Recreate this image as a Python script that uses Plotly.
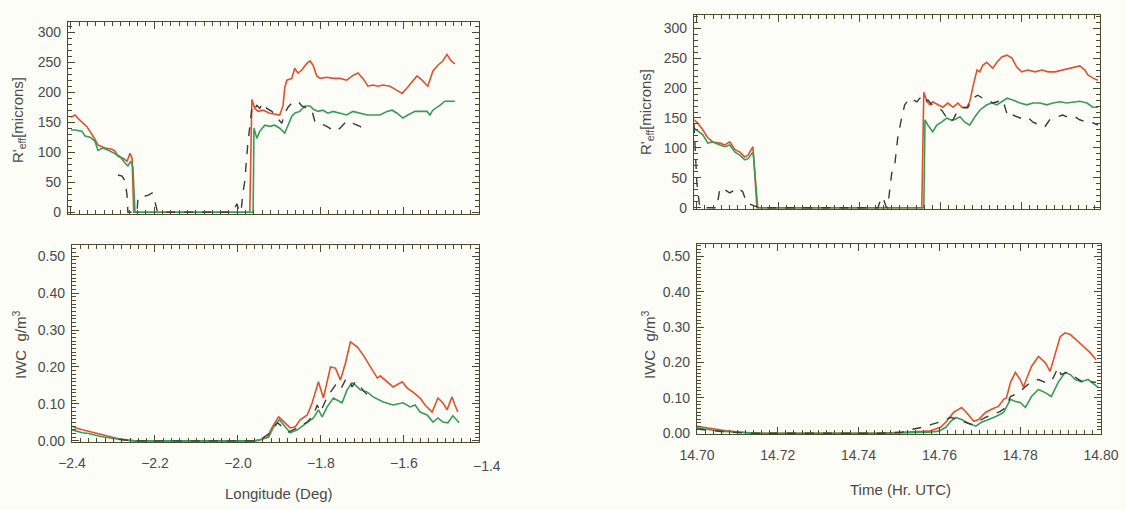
import plotly.graph_objects as go

W, H = 1126, 510

# ---------------- Top-left: R'eff vs Longitude ----------------
lon_tl_red = [-2.400, -2.390, -2.378, -2.362, -2.347, -2.335, -2.318, -2.301, -2.294, -2.287,
              -2.275, -2.265, -2.258, -2.253, -2.249, -1.970, -1.965, -1.958, -1.950, -1.938,
              -1.922, -1.905, -1.898, -1.890, -1.886, -1.881, -1.869, -1.862, -1.854, -1.845,
              -1.833, -1.825, -1.818, -1.809, -1.801, -1.785, -1.770, -1.753, -1.737, -1.722,
              -1.710, -1.698, -1.686, -1.674, -1.662, -1.650, -1.633, -1.616, -1.604, -1.592,
              -1.580, -1.568, -1.556, -1.542, -1.530, -1.518, -1.506, -1.496, -1.487, -1.477]
reff_tl_red = [158, 162, 153, 143, 127, 112, 107, 105, 102, 93,
               90, 85, 98, 90, 0, 0, 188, 173, 168, 170,
               165, 163, 162, 178, 207, 220, 223, 240, 232, 237,
               248, 252, 245, 227, 223, 225, 223, 223, 220, 228,
               232, 223, 210, 212, 210, 212, 210, 203, 198, 207,
               218, 227, 220, 210, 235, 245, 252, 263, 253, 247]

lon_tl_green = [-2.400, -2.390, -2.374, -2.366, -2.354, -2.342, -2.335, -2.323, -2.306, -2.294,
                -2.282, -2.270, -2.263, -2.256, -2.251, -2.246, -1.962, -1.960, -1.953, -1.946,
                -1.934, -1.922, -1.910, -1.898, -1.886, -1.878, -1.869, -1.862, -1.850, -1.837,
                -1.825, -1.818, -1.806, -1.794, -1.782, -1.770, -1.753, -1.737, -1.722, -1.705,
                -1.688, -1.674, -1.657, -1.640, -1.628, -1.616, -1.602, -1.590, -1.573, -1.556,
                -1.544, -1.537, -1.530, -1.513, -1.501, -1.489, -1.477]
reff_tl_green = [137, 137, 135, 127, 125, 118, 103, 107, 102, 98,
                 93, 82, 77, 85, 75, 0, 0, 140, 123, 135,
                 145, 143, 145, 140, 132, 145, 160, 165, 168, 177,
                 177, 172, 168, 170, 165, 168, 165, 162, 168, 165,
                 162, 162, 162, 168, 170, 165, 157, 162, 168, 168,
                 168, 162, 170, 178, 185, 185, 185]

lon_tl_black = [-2.287, -2.277, -2.270, -2.265, -2.263, -2.241, -2.239, -2.229, -2.222, -2.215,
                -2.205, -2.198, -2.193, -2.186, -2.011, -2.001, -1.996, -1.991, -1.987, -1.982,
                -1.975, -1.970, -1.965, -1.962, -1.958, -1.953, -1.946, -1.938, -1.929, -1.917,
                -1.910, -1.902, -1.893, -1.886, -1.878, -1.869, -1.854, -1.845, -1.833, -1.821,
                -1.813, -1.801, -1.785, -1.765, -1.753, -1.737, -1.722, -1.705, -1.688]
reff_tl_black = [62, 60, 52, 28, 0, 0, 23, 28, 27, 28,
                 32, 18, 3, 0, 0, 14, 3, 0, 30, 52,
                 112, 145, 173, 178, 173, 178, 173, 182, 173, 168,
                 162, 155, 148, 165, 175, 182, 185, 177, 173, 170,
                 150, 148, 143, 135, 140, 152, 148, 143, 135]

# ---------------- Bottom-left: IWC vs Longitude ----------------
lon_bl_red = [-2.400, -2.390, -2.375, -2.360, -2.345, -2.330, -2.315, -2.300, -2.285, -2.270,
              -2.250, -1.960, -1.946, -1.929, -1.917, -1.902, -1.890, -1.874, -1.862, -1.850,
              -1.833, -1.821, -1.806, -1.794, -1.777, -1.765, -1.753, -1.741, -1.729, -1.712,
              -1.698, -1.681, -1.664, -1.657, -1.640, -1.626, -1.604, -1.592, -1.578, -1.561,
              -1.549, -1.532, -1.518, -1.506, -1.496, -1.484, -1.477, -1.470]
iwc_bl_red = [0.040, 0.035, 0.030, 0.026, 0.020, 0.016, 0.012, 0.008, 0.005, 0.003,
              0.000, 0.000, 0.003, 0.010, 0.038, 0.065, 0.051, 0.035, 0.038, 0.057,
              0.070, 0.103, 0.160, 0.116, 0.200, 0.197, 0.165, 0.210, 0.268, 0.254,
              0.232, 0.200, 0.170, 0.176, 0.160, 0.146, 0.160, 0.143, 0.132, 0.116,
              0.097, 0.078, 0.116, 0.103, 0.084, 0.119, 0.097, 0.078]

lon_bl_green = [-2.400, -2.390, -2.375, -2.360, -2.345, -2.330, -2.315, -2.300, -2.285, -2.270,
                -2.250, -1.960, -1.946, -1.926, -1.914, -1.900, -1.886, -1.874, -1.857, -1.833,
                -1.818, -1.806, -1.797, -1.785, -1.770, -1.749, -1.737, -1.725, -1.717, -1.705,
                -1.688, -1.674, -1.650, -1.626, -1.602, -1.585, -1.573, -1.561, -1.544, -1.530,
                -1.518, -1.506, -1.494, -1.482, -1.467]
iwc_bl_green = [0.030, 0.027, 0.022, 0.020, 0.015, 0.012, 0.009, 0.006, 0.004, 0.002,
                0.000, 0.000, 0.003, 0.010, 0.038, 0.057, 0.038, 0.022, 0.030, 0.049,
                0.062, 0.084, 0.065, 0.092, 0.116, 0.103, 0.138, 0.157, 0.151, 0.138,
                0.132, 0.119, 0.105, 0.097, 0.103, 0.092, 0.097, 0.078, 0.070, 0.051,
                0.062, 0.051, 0.049, 0.068, 0.049]

lon_bl_black = [-2.287, -2.270, -2.250, -1.960, -1.946, -1.922, -1.905, -1.893, -1.878, -1.857,
                -1.833, -1.818, -1.809, -1.801, -1.785, -1.765, -1.753, -1.741, -1.734, -1.725,
                -1.717, -1.705, -1.693, -1.686]
iwc_bl_black = [0.004, 0.002, 0.000, 0.000, 0.003, 0.022, 0.049, 0.038, 0.024, 0.035,
                0.051, 0.070, 0.097, 0.078, 0.119, 0.151, 0.138, 0.165, 0.170, 0.146,
                0.160, 0.146, 0.130, 0.124]

# ---------------- Top-right: R'eff vs Time ----------------
t_tr_red = [14.6993, 14.7002, 14.7015, 14.7027, 14.7039, 14.7057, 14.7069, 14.7081, 14.7094, 14.7106,
            14.7118, 14.7126, 14.7138, 14.7140, 14.7148, 14.7554, 14.7559, 14.7567, 14.7574, 14.7581,
            14.7594, 14.7606, 14.7618, 14.7631, 14.7643, 14.7653, 14.7665, 14.7672, 14.7680, 14.7690,
            14.7697, 14.7704, 14.7714, 14.7722, 14.7729, 14.7739, 14.7751, 14.7764, 14.7776, 14.7788,
            14.7800, 14.7815, 14.7833, 14.7850, 14.7865, 14.7882, 14.7899, 14.7914, 14.7931, 14.7943,
            14.7956, 14.7963, 14.7975, 14.7988]
reff_tr_red = [147, 142, 130, 117, 110, 108, 105, 110, 97, 93,
               85, 88, 102, 85, 0, 0, 193, 177, 172, 177,
               172, 168, 175, 168, 175, 168, 168, 177, 202, 230,
               227, 238, 243, 238, 233, 243, 252, 255, 250, 235,
               227, 230, 227, 230, 227, 227, 230, 233, 235, 237,
               230, 222, 217, 213]

t_tr_green = [14.6993, 14.7002, 14.7015, 14.7027, 14.7039, 14.7057, 14.7069, 14.7081, 14.7094, 14.7106,
              14.7118, 14.7126, 14.7138, 14.7140, 14.7150, 14.7559, 14.7562, 14.7569, 14.7581, 14.7591,
              14.7603, 14.7616, 14.7623, 14.7635, 14.7648, 14.7660, 14.7672, 14.7685, 14.7697, 14.7714,
              14.7727, 14.7739, 14.7751, 14.7764, 14.7778, 14.7796, 14.7813, 14.7828, 14.7845, 14.7862,
              14.7877, 14.7894, 14.7911, 14.7926, 14.7943, 14.7961, 14.7975, 14.7988]
reff_tr_green = [133, 128, 122, 108, 110, 105, 102, 105, 93, 88,
                 80, 82, 93, 83, 0, 0, 147, 138, 127, 138,
                 143, 150, 147, 147, 152, 143, 138, 152, 163, 172,
                 175, 172, 177, 183, 180, 175, 172, 175, 175, 172,
                 175, 177, 175, 177, 178, 175, 168, 168]

t_tr_black = [14.6993, 14.7000, 14.7007, 14.7015, 14.7049, 14.7057, 14.7069, 14.7081, 14.7094, 14.7101,
              14.7113, 14.7123, 14.7135, 14.7148, 14.7155, 14.7446, 14.7451, 14.7458, 14.7466, 14.7470,
              14.7480, 14.7488, 14.7495, 14.7505, 14.7512, 14.7525, 14.7532, 14.7542, 14.7549, 14.7557,
              14.7562, 14.7569, 14.7579, 14.7591, 14.7603, 14.7616, 14.7623, 14.7631, 14.7643, 14.7655,
              14.7667, 14.7680, 14.7692, 14.7704, 14.7717, 14.7729, 14.7741, 14.7754, 14.7759, 14.7766,
              14.7778, 14.7796, 14.7813, 14.7828, 14.7845, 14.7857, 14.7869, 14.7887, 14.7901, 14.7919,
              14.7931, 14.7943, 14.7961, 14.7975, 14.7988]
reff_tr_black = [140, 42, 2, 0, 0, 33, 30, 25, 30, 33,
                 27, 8, 5, 2, 0, 0, 10, 18, 2, 0,
                 58, 75, 118, 152, 172, 183, 180, 177, 183, 185,
                 177, 180, 172, 168, 163, 150, 143, 147, 163, 167,
                 167, 183, 188, 183, 180, 175, 177, 180, 168, 152,
                 155, 150, 152, 143, 138, 135, 147, 152, 155, 150,
                 152, 147, 143, 142, 138]

# ---------------- Bottom-right: IWC vs Time ----------------
t_br_red = [14.7000, 14.7020, 14.7050, 14.7080, 14.7110, 14.7140, 14.7451, 14.7532, 14.7574, 14.7603,
            14.7618, 14.7635, 14.7655, 14.7667, 14.7685, 14.7697, 14.7714, 14.7729, 14.7746, 14.7759,
            14.7766, 14.7776, 14.7788, 14.7800, 14.7808, 14.7815, 14.7828, 14.7845, 14.7862, 14.7874,
            14.7887, 14.7899, 14.7911, 14.7924, 14.7938, 14.7956, 14.7973, 14.7988]
iwc_br_red = [0.020, 0.016, 0.010, 0.006, 0.003, 0.000, 0.000, 0.003, 0.006, 0.017,
              0.034, 0.059, 0.073, 0.059, 0.034, 0.039, 0.059, 0.068, 0.076, 0.096,
              0.100, 0.144, 0.172, 0.152, 0.130, 0.152, 0.189, 0.217, 0.200, 0.175,
              0.228, 0.273, 0.284, 0.279, 0.265, 0.245, 0.228, 0.208]

t_br_green = [14.7000, 14.7030, 14.7060, 14.7090, 14.7120, 14.7150, 14.7451, 14.7574, 14.7599, 14.7616,
              14.7628, 14.7640, 14.7655, 14.7672, 14.7690, 14.7704, 14.7722, 14.7741, 14.7759, 14.7776,
              14.7788, 14.7800, 14.7813, 14.7828, 14.7845, 14.7862, 14.7877, 14.7894, 14.7911, 14.7924,
              14.7936, 14.7951, 14.7968, 14.7985, 14.7993]
iwc_br_green = [0.015, 0.010, 0.006, 0.004, 0.002, 0.000, 0.000, 0.003, 0.006, 0.017,
                0.034, 0.045, 0.039, 0.028, 0.020, 0.031, 0.039, 0.048, 0.059, 0.096,
                0.090, 0.087, 0.073, 0.104, 0.124, 0.115, 0.104, 0.144, 0.172, 0.166,
                0.152, 0.146, 0.152, 0.138, 0.130]

t_br_black = [14.7000, 14.7030, 14.7060, 14.7100, 14.7140, 14.7451, 14.7507, 14.7532, 14.7557, 14.7581,
              14.7606, 14.7628, 14.7643, 14.7660, 14.7680, 14.7697, 14.7714, 14.7734, 14.7751, 14.7764,
              14.7776, 14.7788, 14.7800, 14.7813, 14.7828, 14.7845, 14.7862, 14.7877, 14.7894, 14.7901,
              14.7914, 14.7926, 14.7938, 14.7956, 14.7973, 14.7988]
iwc_br_black = [0.012, 0.008, 0.005, 0.002, 0.000, 0.000, 0.003, 0.011, 0.017, 0.025,
                0.034, 0.045, 0.039, 0.031, 0.025, 0.034, 0.045, 0.054, 0.062, 0.073,
                0.104, 0.110, 0.118, 0.132, 0.146, 0.152, 0.144, 0.146, 0.186, 0.166,
                0.172, 0.166, 0.158, 0.144, 0.146, 0.144]

# ---------------- Styling ----------------
RED = "#e2502c"
GREEN = "#3c9a58"
BLACK = "#3a3a38"
AXC = "#4b4b30"
TXT = "#4a4a4a"
FONT = "Liberation Sans Narrow, Liberation Sans, Arial, sans-serif"


def px_x(p):
    return p / W


def px_y(p):
    return 1 - p / H


fig = go.Figure()


def add_set(xs_list, ys_list, xa, ya):
    styles = [dict(color=RED, width=1.6), dict(color=GREEN, width=1.6),
              dict(color=BLACK, width=1.4, dash="dash")]
    for xs, ys, st in zip(xs_list, ys_list, styles):
        fig.add_trace(go.Scatter(x=xs, y=ys, mode="lines", line=st,
                                 xaxis=xa, yaxis=ya, showlegend=False,
                                 hoverinfo="skip"))


add_set([lon_tl_red, lon_tl_green, lon_tl_black],
        [reff_tl_red, reff_tl_green, reff_tl_black], "x", "y")
add_set([lon_bl_red, lon_bl_green, lon_bl_black],
        [iwc_bl_red, iwc_bl_green, iwc_bl_black], "x2", "y2")
add_set([t_tr_red, t_tr_green, t_tr_black],
        [reff_tr_red, reff_tr_green, reff_tr_black], "x3", "y3")
add_set([t_br_red, t_br_green, t_br_black],
        [iwc_br_red, iwc_br_green, iwc_br_black], "x4", "y4")


def axis(domain, rng, dtick, mdtick, anchor, showlabels=True, fmt=None, standoff=3):
    d = dict(domain=domain, range=rng, dtick=dtick, tick0=0, anchor=anchor,
             automargin=False,
             showline=True, linecolor=AXC, linewidth=1.3, mirror="allticks",
             ticks="inside", ticklen=7, tickwidth=1, tickcolor=AXC,
             showgrid=False, zeroline=False, showticklabels=showlabels,
             ticklabelstandoff=standoff,
             tickfont=dict(family=FONT, size=14, color=TXT),
             minor=dict(ticks="inside", ticklen=3.5, tickwidth=1,
                        tickcolor=AXC, dtick=mdtick, showgrid=False))
    if fmt:
        d["tickformat"] = fmt
    return d


# panel geometry in pixels: (left, right, top, bottom)
TL = (68, 479, 22, 214)
BL = (72, 479, 245, 442)
TR = (694, 1100, 15, 209)
BR = (697, 1101, 244, 434)


def dom(p):
    return [px_x(p[0]), px_x(p[1])], [px_y(p[3]), px_y(p[2])]


tlx, tly = dom(TL)
blx, bly = dom(BL)
trx, try_ = dom(TR)
brx, bry = dom(BR)

fig.update_layout(
    template="none",
    width=W, height=H,
    margin=dict(l=0, r=0, t=0, b=0, autoexpand=False),
    paper_bgcolor="#fdfdf8", plot_bgcolor="#fdfdf8",
    xaxis=axis(tlx, [-2.407, -1.419], 0.2, 0.02, "y", showlabels=False),
    yaxis=axis(tly, [-3, 317], 50, 10, "x"),
    xaxis2=axis(blx, [-2.4, -1.419], 0.2, 0.02, "y2", fmt=".1f", standoff=8),
    yaxis2=axis(bly, [-0.003, 0.53], 0.1, 0.01, "x2", fmt=".2f"),
    xaxis3=axis(trx, [14.6993, 14.7993], 0.02, 0.002, "y3", showlabels=False),
    yaxis3=axis(try_, [-2, 322], 50, 10, "x3"),
    xaxis4=axis(brx, [14.70, 14.80], 0.02, 0.002, "y4", fmt=".2f", standoff=8),
    yaxis4=axis(bry, [-0.002, 0.535], 0.1, 0.01, "x4", fmt=".2f"),
)

ann_font = dict(family=FONT, size=15, color=TXT)
annotations = [
    dict(text="R'<sub>eff</sub>[microns]", x=px_x(18), y=px_y(120), textangle=-90),
    dict(text="IWC  g/m<sup>3</sup>", x=px_x(19), y=px_y(345), textangle=-90),
    dict(text="R'<sub>eff</sub>[microns]", x=px_x(646), y=px_y(112), textangle=-90),
    dict(text="IWC  g/m<sup>3</sup>", x=px_x(648), y=px_y(345), textangle=-90),
    dict(text="Longitude (Deg)", x=px_x(279), y=px_y(493), textangle=0),
    dict(text="Time (Hr. UTC)", x=px_x(900), y=px_y(489), textangle=0),
    dict(text="\u22121.4", x=px_x(487), y=px_y(466), textangle=0, size=14),
]
for a in annotations:
    f = dict(ann_font)
    if "size" in a:
        f["size"] = a.pop("size")
    fig.add_annotation(xref="paper", yref="paper", showarrow=False,
                       xanchor="center", yanchor="middle", font=f, **a)

fig.write_html("out.html",
               config={"displayModeBar": False},
               post_script="document.body.style.margin='0';document.body.style.padding='0';")
